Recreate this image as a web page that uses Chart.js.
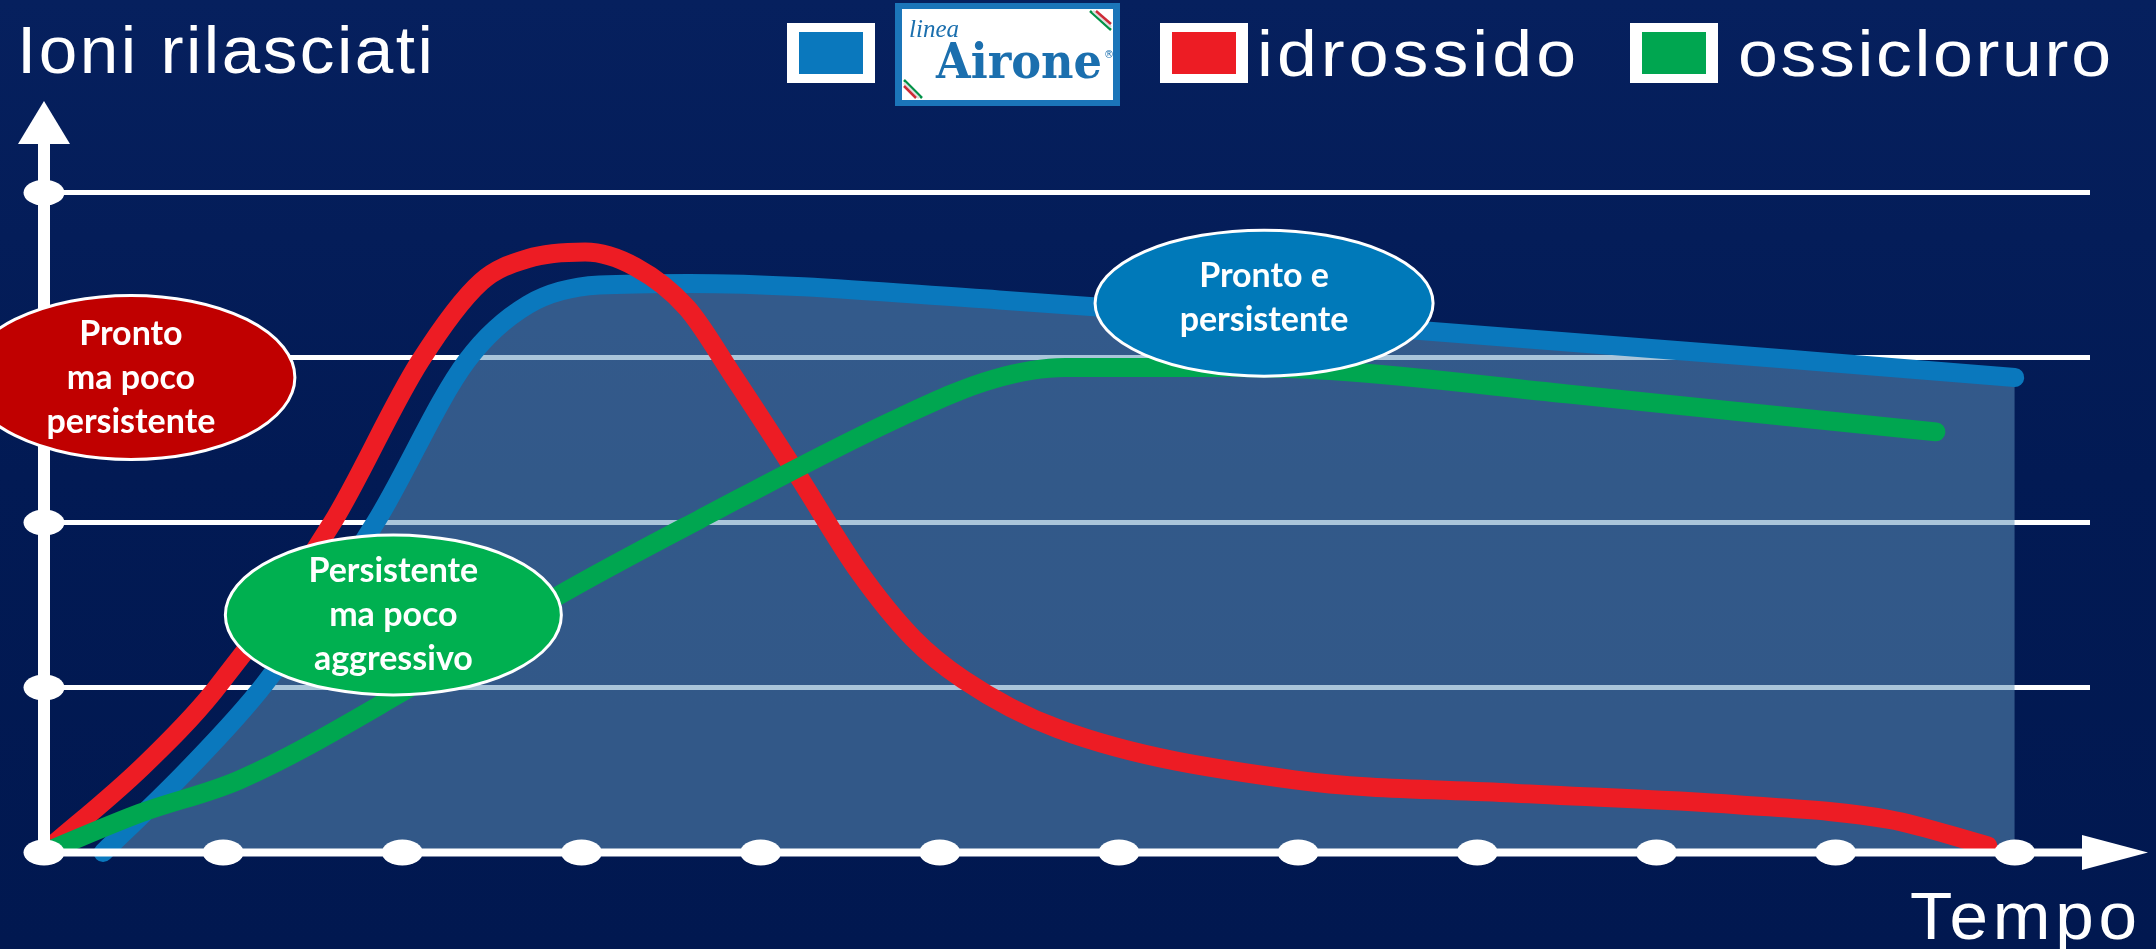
<!DOCTYPE html>
<html>
<head>
<meta charset="utf-8">
<script src="https://cdn.jsdelivr.net/npm/chart.js@4.4.1/dist/chart.umd.min.js"></script>
<style>
  html, body { margin: 0; padding: 0; background: #021a52; }
  canvas { display: block; }
</style>
</head>
<body>
<canvas id="chart" width="2156" height="949"></canvas>
<script>
// series names and colours, in legend order
const seriesLabels = ['linea Airone', 'idrossido', 'ossicloruro'];
const seriesColors = ['#0a78bd', '#ed1c24', '#00a650'];

// values (x = time step, y = grid units)
const aironeX = [0.33, 0.8, 1.23, 1.85, 2.36, 2.7, 3.1, 3.6, 5.33, 7.5, 9.86, 11.0];
const aironeY = [0, 0.5, 1.02, 2.0, 2.98, 3.32, 3.44, 3.45, 3.35, 3.18, 2.98, 2.88];

const idrossidoX = [0, 0.55, 0.95, 1.61, 2.1, 2.44, 2.7, 3.02, 3.3, 3.59, 3.84, 4.2, 4.55, 4.85, 5.13, 5.66, 6.98, 8.2, 9.45, 10.3, 10.85];
const idrossidoY = [0, 0.52, 0.98, 2.0, 2.98, 3.46, 3.6, 3.64, 3.55, 3.3, 2.9, 2.3, 1.7, 1.3, 1.05, 0.75, 0.44, 0.36, 0.29, 0.2, 0.04];

const ossiX = [0, 0.54, 1.09, 1.98, 2.86, 3.66, 4.78, 5.3, 5.7, 6.6, 7.2, 8.5, 10.56];
const ossiY = [0, 0.24, 0.44, 0.96, 1.55, 2.02, 2.64, 2.87, 2.94, 2.94, 2.92, 2.78, 2.55];

const xTicks = [0, 1, 2, 3, 4, 5, 6, 7, 8, 9, 10, 11];
const yTicks = [1, 2, 3, 4];

const axisTitleY = 'Ioni rilasciati';
const axisTitleX = 'Tempo';

// callout bubbles, anchored in data units
const notes = [
  { lines: ['Pronto', 'ma poco', 'persistente'], x: 0.485, y: 2.88, rx: 164, ry: 82, fill: '#c00000' },
  { lines: ['Persistente', 'ma poco', 'aggressivo'], x: 1.95, y: 1.44, rx: 168, ry: 80, fill: '#00b050' },
  { lines: ['Pronto e', 'persistente'], x: 6.81, y: 3.33, rx: 169, ry: 73, fill: '#0079b9' }
];

const pts = (xs, ys) => xs.map((x, i) => ({ x: x, y: ys[i] }));

// slightly stretched glyphs, then letter spacing to reach the width
function fitText(ctx, str, left, baseline, width, font, stretch, color) {
  ctx.save();
  ctx.font = font;
  ctx.fillStyle = color;
  ctx.textAlign = 'left';
  ctx.textBaseline = 'alphabetic';
  ctx.translate(left, baseline);
  const w = ctx.measureText(str).width;
  if ('letterSpacing' in ctx && width > w * stretch) {
    ctx.scale(stretch, 1);
    ctx.letterSpacing = ((width / stretch - w) / (str.length - 1)).toFixed(2) + 'px';
  } else {
    ctx.scale(width / w, 1);
  }
  ctx.fillText(str, 0, 0);
  ctx.restore();
}

function stretchText(ctx, str, left, baseline, width, font, color) {
  ctx.save();
  ctx.font = font;
  ctx.fillStyle = color;
  ctx.textAlign = 'left';
  ctx.textBaseline = 'alphabetic';
  const w = ctx.measureText(str).width;
  ctx.translate(left, baseline);
  ctx.scale(width / w, 1);
  ctx.fillText(str, 0, 0);
  ctx.restore();
}

const backdrop = {
  id: 'backdrop',
  beforeDraw(chart) {
    const ctx = chart.ctx;
    ctx.save();
    const g = ctx.createLinearGradient(0, 0, 0, chart.height);
    g.addColorStop(0, '#06205e');
    g.addColorStop(0.5, '#021a54');
    g.addColorStop(1, '#011850');
    ctx.fillStyle = g;
    ctx.fillRect(0, 0, chart.width, chart.height);
    ctx.restore();
  }
};

const decorations = {
  id: 'decorations',
  afterDatasetsDraw(chart) {
    const ctx = chart.ctx;
    const xs = chart.scales.x, ys = chart.scales.y;
    const area = chart.chartArea;
    const x0 = xs.getPixelForValue(0);
    const y0 = ys.getPixelForValue(0);

    ctx.save();
    ctx.fillStyle = '#ffffff';

    // y axis with arrow
    ctx.fillRect(x0 - 6, area.top + 40, 12, y0 - area.top - 40);
    ctx.beginPath();
    ctx.moveTo(x0, area.top + 4);
    ctx.lineTo(x0 + 26, area.top + 47);
    ctx.lineTo(x0 - 26, area.top + 47);
    ctx.closePath();
    ctx.fill();

    // x axis with arrow
    const tip = area.right + 58;
    ctx.fillRect(x0, y0 - 4, tip - 62 - x0, 8);
    ctx.beginPath();
    ctx.moveTo(tip, y0);
    ctx.lineTo(tip - 66, y0 - 17.5);
    ctx.lineTo(tip - 66, y0 + 17.5);
    ctx.closePath();
    ctx.fill();

    // tick dots
    xTicks.forEach(v => {
      ctx.beginPath();
      ctx.ellipse(xs.getPixelForValue(v), y0, 20.5, 13, 0, 0, Math.PI * 2);
      ctx.fill();
    });
    yTicks.forEach(v => {
      ctx.beginPath();
      ctx.ellipse(x0, ys.getPixelForValue(v), 20.5, 13, 0, 0, Math.PI * 2);
      ctx.fill();
    });

    // callouts
    notes.forEach(n => {
      const cx = xs.getPixelForValue(n.x);
      const cy = ys.getPixelForValue(n.y);
      ctx.beginPath();
      ctx.ellipse(cx, cy, n.rx, n.ry, 0, 0, Math.PI * 2);
      ctx.fillStyle = n.fill;
      ctx.fill();
      ctx.lineWidth = 3;
      ctx.strokeStyle = '#ffffff';
      ctx.stroke();
      ctx.fillStyle = '#ffffff';
      ctx.font = 'bold 34px Lato';
      ctx.textAlign = 'center';
      ctx.textBaseline = 'alphabetic';
      const first = cy + 11.5 - 22 * (n.lines.length - 1) - (n.lines.length === 2 ? 6 : 0);
      n.lines.forEach((t, i) => ctx.fillText(t, cx, first + i * 44));
    });
    ctx.restore();

    // axis titles
    const sans = '"Liberation Sans", Arial, sans-serif';
    fitText(ctx, axisTitleY, 17, 73, 416, '66px ' + sans, 1.05, '#ffffff');
    fitText(ctx, axisTitleX, 1910, 939, 227, '66px ' + sans, 1.05, '#ffffff');

    // legend
    const boxes = [787, 1160, 1630];
    boxes.forEach((bx, i) => {
      ctx.fillStyle = '#ffffff';
      ctx.fillRect(bx, 23, 88, 60);
      ctx.fillStyle = seriesColors[i];
      ctx.fillRect(bx + 12, 32, 64, 42);
    });
    fitText(ctx, seriesLabels[1], 1257, 76, 319, '64px ' + sans, 1.12, '#ffffff');
    fitText(ctx, seriesLabels[2], 1738, 76, 373, '64px ' + sans, 1.12, '#ffffff');

    // logo box for the first series
    ctx.save();
    ctx.fillStyle = '#1b75b9';
    ctx.fillRect(895, 3, 225, 103);
    ctx.fillStyle = '#ffffff';
    ctx.fillRect(902, 9, 211, 91);
    const stripes = ['#009246', '#dddddd', '#ce2b37'];
    ctx.lineWidth = 2.5;
    stripes.forEach((c, i) => {
      ctx.strokeStyle = c;
      ctx.beginPath();
      ctx.moveTo(1090 + i * 3, 11);
      ctx.lineTo(1111, 30 - i * 3);
      ctx.stroke();
      ctx.beginPath();
      ctx.moveTo(904, 80 + i * 3);
      ctx.lineTo(922 - i * 3, 98);
      ctx.stroke();
    });
    ctx.restore();
    const words = seriesLabels[0].split(' ');
    stretchText(ctx, words[0], 909, 37, 50, 'italic 26px "Liberation Serif"', '#1b6fae');
    stretchText(ctx, words[1], 936, 78, 166, 'bold 48px "DejaVu Serif"', '#1b6fae');
    ctx.save();
    ctx.fillStyle = '#1b6fae';
    ctx.font = '10px "DejaVu Sans"';
    ctx.fillText('\u00ae', 1104, 58);
    ctx.restore();
  }
};

const common = {
  borderWidth: 19,
  pointRadius: 0,
  pointHoverRadius: 0,
  cubicInterpolationMode: 'monotone',
  borderCapStyle: 'round',
  borderJoinStyle: 'round',
  clip: false
};

new Chart(document.getElementById('chart'), {
  type: 'line',
  data: {
    datasets: [
      Object.assign({
        label: seriesLabels[0],
        data: pts(aironeX, aironeY),
        borderColor: seriesColors[0],
        backgroundColor: 'rgba(94, 145, 185, 0.53)',
        fill: 'origin',
        order: 3
      }, common),
      Object.assign({
        label: seriesLabels[1],
        data: pts(idrossidoX, idrossidoY),
        borderColor: seriesColors[1],
        fill: false,
        order: 2
      }, common),
      Object.assign({
        label: seriesLabels[2],
        data: pts(ossiX, ossiY),
        borderColor: seriesColors[2],
        fill: false,
        order: 1
      }, common)
    ]
  },
  options: {
    responsive: false,
    animation: false,
    devicePixelRatio: 1,
    layout: { padding: { left: 44, right: 66, top: 97, bottom: 96.5 } },
    scales: {
      x: {
        type: 'linear',
        display: false,
        min: 0,
        max: 11.42
      },
      y: {
        type: 'linear',
        min: 0,
        max: 4.58,
        ticks: { display: false, stepSize: 1 },
        border: { display: false },
        grid: {
          drawTicks: false,
          lineWidth: 5,
          color: c => (yTicks.includes(c.tick.value) ? '#ffffff' : 'rgba(0,0,0,0)')
        }
      }
    },
    plugins: {
      legend: { display: false },
      tooltip: { enabled: false }
    }
  },
  plugins: [backdrop, decorations]
});
</script>
</body>
</html>
